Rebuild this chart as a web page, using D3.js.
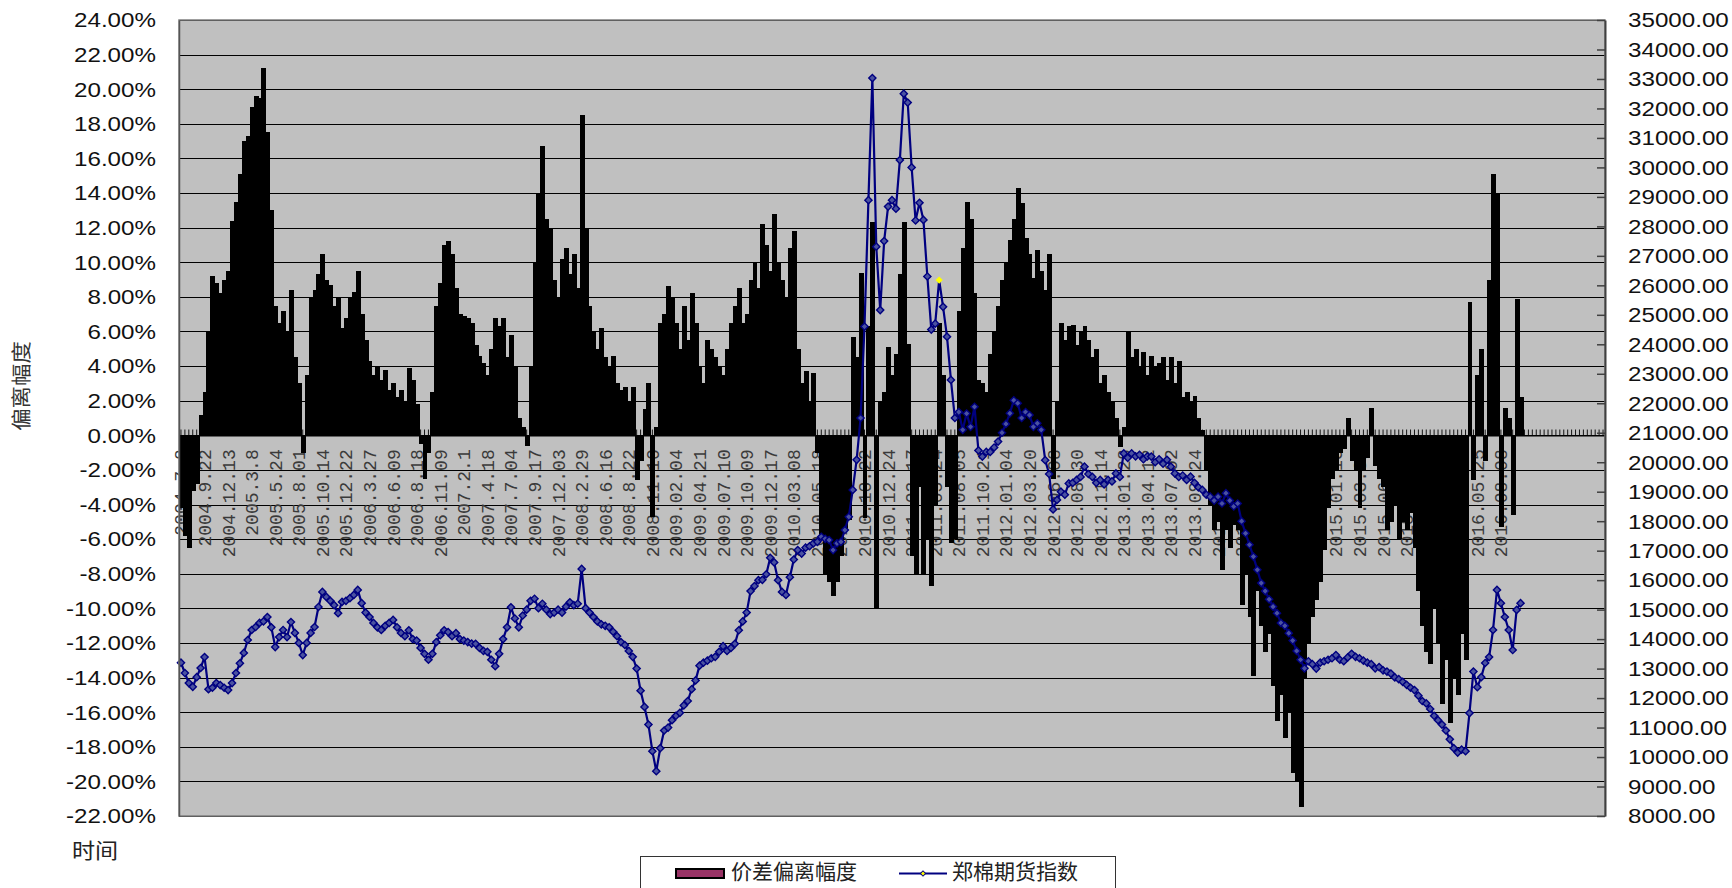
<!DOCTYPE html>
<html>
<head>
<meta charset="utf-8">
<script src="https://cdn.jsdelivr.net/npm/d3@7"></script>
<style>
  body { margin: 0; background: #ffffff; }
  text { font-family: "Liberation Sans", Arial, sans-serif; }
  .cjk { font-family: "Noto Sans CJK SC", sans-serif; }
  .mono { font-family: "Liberation Mono", "DejaVu Sans Mono", monospace; }
</style>
</head>
<body>
<svg id="chart" width="1732" height="888"></svg>
<script>
// 价差偏离幅度 (%), one value per category
const spreadDeviation = [
  -4.2, -5.8, -6.5, -3.2, -2.8, 1.2, 2.5, 6.0, 9.2, 8.8, 8.2, 9.0, 9.5, 12.4, 13.5, 15.1, 17.0, 17.3, 19.0, 19.6,
  19.5, 21.2, 17.5, 13.0, 7.5, 6.5, 7.2, 6.0, 8.4, 4.5, 3.0, -1.0, 3.5, 8.0, 8.4, 9.3, 10.5, 9.0, 8.7, 7.5,
  8.0, 6.2, 6.8, 8.0, 8.3, 9.5, 7.0, 5.5, 4.3, 3.5, 4.0, 3.2, 3.8, 2.6, 3.0, 2.2, 2.6, 2.0, 3.9, 3.2,
  1.8, -0.5, -2.5, -1.0, 2.5, 7.5, 8.8, 11.0, 11.2, 10.5, 8.5, 7.0, 6.9, 6.8, 6.5, 5.2, 4.6, 4.2, 3.5, 5.0,
  6.8, 6.3, 6.8, 4.5, 5.8, 4.0, 1.0, 0.5, -0.6, 4.0, 10.0, 14.0, 16.7, 12.5, 12.0, 9.0, 8.0, 10.2, 10.8, 9.3,
  10.5, 8.5, 18.5, 12.0, 7.5, 6.0, 5.0, 6.2, 4.5, 4.0, 4.6, 3.0, 2.6, 2.8, 2.0, 2.8, -2.6, -1.5, 1.5, 3.0,
  -4.7, 0.5, 6.5, 7.0, 8.6, 8.0, 6.5, 5.0, 7.5, 5.5, 8.2, 6.5, 4.0, 3.0, 5.5, 5.0, 4.5, 4.0, 3.5, 5.0,
  6.5, 7.5, 8.5, 6.5, 7.0, 9.0, 10.0, 8.5, 12.2, 11.0, 9.5, 12.8, 10.0, 9.0, 8.0, 10.8, 11.8, 5.0, 3.0, 3.7,
  2.0, 3.6, -1.0, -6.0, -8.0, -8.5, -9.3, -8.5, -7.0, -5.5, -4.9, 5.7, 4.5, 9.4, -4.8, 6.3, 12.3, -10.0, 2.0, 2.5,
  5.1, 3.5, 4.7, 9.3, 12.3, 5.3, -7.0, -8.0, -3.0, -8.0, -6.0, -8.7, -4.0, 6.5, 3.5, -3.0, -6.2, -6.0, 7.2, 10.8,
  13.5, 12.5, 8.2, 3.2, 3.0, 2.5, 4.7, 6.0, 7.5, 9.0, 10.0, 11.3, 12.5, 14.3, 13.4, 11.4, 10.5, 9.1, 10.7, 9.5,
  8.4, 10.5, -2.5, 2.0, 6.5, 5.5, 6.3, 6.4, 5.2, 6.0, 6.3, 5.5, 4.5, 5.0, 3.0, 3.5, 2.5, 2.0, 1.0, -0.7,
  0.5, 6.0, 4.5, 5.0, 4.0, 4.8, 3.5, 4.6, 4.0, 4.2, 4.5, 3.2, 4.5, 3.0, 4.3, 2.2, 2.5, 2.0, 2.3, 1.0,
  0.3, -2.0, -4.0, -5.5, -5.0, -7.8, -5.5, -6.5, -5.2, -5.5, -9.8, -8.0, -10.5, -13.9, -9.0, -11.0, -12.5, -11.5, -14.5, -16.5,
  -15.0, -17.5, -16.0, -19.5, -20.0, -21.5, -14.0, -12.0, -10.5, -9.5, -8.5, -6.6, -4.2, -2.5, -2.0, -1.0, -0.8, 1.0, -1.5, -2.0,
  -4.2, -2.0, -1.3, 1.6, -1.8, -2.5, -3.0, -5.5, -5.0, -4.0, -6.0, -5.0, -5.5, -4.5, -6.5, -9.0, -11.0, -12.5, -13.2, -10.0,
  -12.0, -15.5, -13.0, -16.6, -14.0, -15.0, -11.5, -13.0, 7.7, -2.6, 3.5, 5.0, -1.5, 9.0, 15.1, 14.0, -5.3, 1.6, 1.0, -4.6,
  7.9, 2.2
];

// 郑棉期货指数, one value per category
const cottonIndex = [
  13200, 12850, 12510, 12380, 12710, 13020, 13390, 12300, 12350, 12510, 12440, 12350, 12270, 12510, 12850, 13180, 13530, 13970, 14310, 14410,
  14550, 14600, 14750, 14400, 13730, 14070, 14310, 14070, 14580, 14210, 13870, 13460, 13870, 14210, 14410, 15090, 15600, 15430, 15300, 15150,
  14880, 15260, 15300, 15390, 15500, 15670, 15220, 14900, 14750, 14550, 14400, 14310, 14450, 14550, 14650, 14400, 14210, 14100, 14300, 14000,
  13950, 13700, 13500, 13300, 13500, 13900, 14130, 14300, 14240, 14100, 14200, 14000, 13950, 13900, 13850, 13840, 13700, 13600, 13570, 13300,
  13080, 13500, 14000, 14400, 15080, 14700, 14400, 14800, 15000, 15300, 15370, 15050, 15200, 15000, 14850, 14900, 15000, 14900, 15100, 15250,
  15150, 15200, 16380, 15050, 14900, 14750, 14600, 14500, 14450, 14400, 14250, 14100, 13900, 13800, 13600, 13400, 13000, 12250, 11700, 11100,
  10200, 9520, 10300, 10900, 11000, 11250, 11400, 11500, 11750, 11900, 12300, 12600, 13100, 13200, 13270, 13350, 13400, 13570, 13760, 13600,
  13700, 13840, 14300, 14600, 14900, 15630, 15800, 16000, 16010, 16200, 16760, 16600, 16000, 15600, 15500, 16100, 16700, 17020, 16900, 17100,
  17150, 17250, 17300, 17470, 17400, 17360, 17020, 17250, 17300, 17700, 18150, 19060, 20080, 21500, 24600, 28890, 33030, 27310, 25160, 27500,
  28670, 28890, 28600, 30250, 32500, 32200, 30000, 28200, 28800, 28220, 26300, 24500, 24700, 26180, 25270, 24260, 22790, 21500, 21700, 21100,
  21650, 21200, 21880, 20400, 20190, 20350, 20350, 20500, 20700, 21000, 21300, 21660, 22100, 22000, 21500, 21700, 21600, 21200, 21320, 21100,
  20070, 19600, 18400, 18720, 19000, 18900, 19280, 19300, 19400, 19500, 19850, 19600, 19500, 19300, 19400, 19250, 19400, 19350, 19620, 19500,
  20300, 20150, 20300, 20200, 20250, 20100, 20200, 20190, 20000, 20100, 19950, 20080, 19850, 19620, 19500, 19550, 19400, 19510, 19300, 19150,
  19060, 18900, 18830, 18700, 18830, 18600, 18950, 18700, 18500, 18600, 18000, 17590, 17200, 16800, 16350, 15900, 15630, 15350, 15100, 14880,
  14550, 14450, 14200, 13950, 13600, 13300, 13010, 13250, 13150, 13000, 13200, 13250, 13300, 13350, 13460, 13300, 13250, 13380, 13500, 13400,
  13350, 13270, 13200, 13150, 13010, 13050, 12940, 12900, 12830, 12700, 12640, 12550, 12450, 12350, 12270, 12080, 11900, 11820, 11630, 11400,
  11250, 11100, 10900, 10600, 10300, 10150, 10250, 10200, 11490, 12900, 12370, 12710, 13190, 13390, 14310, 15670, 15220, 14750, 14310, 13630,
  14990, 15220
];

// category axis labels, one for every sixth category
const dateLabels = [
  "2004.7.8", "2004.9.22", "2004.12.13", "2005.3.8", "2005.5.24", "2005.8.01", "2005.10.14", "2005.12.22",
  "2006.3.27", "2006.6.09", "2006.8.18", "2006.11.09", "2007.2.1", "2007.4.18", "2007.7.04", "2007.9.17",
  "2007.12.03", "2008.2.29", "2008.6.16", "2008.8.22", "2008.11.10", "2009.02.04", "2009.04.21", "2009.07.10",
  "2009.10.09", "2009.12.17", "2010.03.08", "2010.05.18", "2010.08.03", "2010.10.22", "2010.12.24", "2011.03.17",
  "2011.05.24", "2011.08.05", "2011.10.21", "2012.01.04", "2012.03.20", "2012.06.08", "2012.08.30", "2012.11.14",
  "2013.01.28", "2013.04.12", "2013.07.02", "2013.09.24", "2013.12.13", "2014.03.05", "2014.05.21", "2014.08.06",
  "2014.10.27", "2015.01.13", "2015.03.31", "2015.06.16", "2015.09.01", "2015.11.20", "2016.02.15", "2016.05.25",
  "2016.08.08"
];

const leftTicks = [24, 22, 20, 18, 16, 14, 12, 10, 8, 6, 4, 2, 0, -2, -4, -6, -8, -10, -12, -14, -16, -18, -20, -22];
const rightTicks = [35000, 34000, 33000, 32000, 31000, 30000, 29000, 28000, 27000, 26000, 25000, 24000, 23000, 22000,
  21000, 20000, 19000, 18000, 17000, 16000, 15000, 14000, 13000, 12000, 11000, 10000, 9000, 8000];

const seriesNames = ["价差偏离幅度", "郑棉期货指数"];
const labelEvery = 6;        // one date label per six categories
const trailingBlank = 21;    // empty categories after the last observation
const highlightIndex = 193;  // point drawn with a yellow marker

const plot = { left: 179, right: 1605, top: 20, bottom: 816 };
const nCats = spreadDeviation.length + trailingBlank;

const svg = d3.select("#chart");

const x = d3.scaleBand().domain(d3.range(nCats)).range([plot.left, plot.right]).padding(0);
const yL = d3.scaleLinear().domain([-22, 24]).range([plot.bottom, plot.top]);
const yR = d3.scaleLinear().domain([8000, 35000]).range([plot.bottom, plot.top]);
const cx = i => x(i) + x.bandwidth() / 2;

// plot area
svg.append("rect")
  .attr("x", plot.left).attr("y", plot.top)
  .attr("width", plot.right - plot.left).attr("height", plot.bottom - plot.top)
  .attr("fill", "#C0C0C0");

// horizontal gridlines
svg.append("g").selectAll("line").data(leftTicks).join("line")
  .attr("x1", plot.left).attr("x2", plot.right)
  .attr("y1", d => Math.round(yL(d)) + 0.5).attr("y2", d => Math.round(yL(d)) + 0.5)
  .attr("stroke", "#000").attr("stroke-width", 1.1);

// category axis on the zero line: one tick per category
const catAxis = svg.append("g").attr("transform", `translate(0,${Math.round(yL(0)) + 0.5})`)
  .call(d3.axisTop(x).tickValues(d3.range(nCats)).tickSize(6).tickSizeOuter(0).tickFormat(""));
catAxis.selectAll("line").attr("stroke", "#000").attr("stroke-width", 0.9);
catAxis.select(".domain").attr("stroke", "#000");

// rotated date labels below the zero line
const labelAxis = svg.append("g").attr("transform", `translate(0,${yL(0) + 14})`)
  .call(d3.axisBottom(x)
    .tickValues(d3.range(0, spreadDeviation.length, labelEvery))
    .tickSize(0)
    .tickFormat(i => dateLabels[i / labelEvery]));
labelAxis.select(".domain").remove();
labelAxis.selectAll("text")
  .attr("class", "mono")
  .attr("x", 0).attr("y", 0).attr("dy", "0.36em")
  .attr("text-anchor", "end")
  .attr("transform", "rotate(-90)")
  .attr("font-size", 18)
  .attr("fill", "#3a3a3a");

// deviation bars (slightly overlapped so neighbouring bars merge)
svg.append("g").attr("shape-rendering", "crispEdges")
  .selectAll("rect").data(spreadDeviation).join("rect")
  .attr("x", (d, i) => x(i))
  .attr("width", x.bandwidth() + 1)
  .attr("y", d => yL(Math.max(0, d)))
  .attr("height", d => Math.abs(yL(d) - yL(0)))
  .attr("fill", "#000");

// cotton futures index line
const line = d3.line().x((d, i) => cx(i)).y(d => yR(d));
svg.append("path").datum(cottonIndex)
  .attr("d", line)
  .attr("fill", "none")
  .attr("stroke", "#000080")
  .attr("stroke-width", 2.2)
  .attr("stroke-linejoin", "round");

const diamond = d3.symbol().type(d3.symbolSquare).size(26);
svg.append("g").selectAll("path").data(cottonIndex).join("path")
  .attr("d", diamond)
  .attr("transform", (d, i) => `translate(${cx(i)},${yR(d)}) rotate(45)`)
  .attr("fill", (d, i) => i === highlightIndex ? "#FFFF00" : "#4a52a0")
  .attr("stroke", (d, i) => i === highlightIndex ? "none" : "#000080")
  .attr("stroke-width", 1.4);

// plot border
svg.append("rect")
  .attr("x", plot.left).attr("y", plot.top)
  .attr("width", plot.right - plot.left).attr("height", plot.bottom - plot.top)
  .attr("fill", "none").attr("stroke", "#808080").attr("stroke-width", 1.5);

// left axis (percent)
const leftAxis = svg.append("g").attr("transform", `translate(${plot.left},0)`)
  .call(d3.axisLeft(yL).tickValues(leftTicks).tickSize(0).tickFormat(d => d.toFixed(2) + "%"));
leftAxis.select(".domain").attr("stroke", "#555").attr("stroke-width", 1.5);
leftAxis.selectAll("text")
  .attr("x", null).attr("dy", "0.35em")
  .attr("transform", "translate(-23,0) scale(1.24,1)")
  .attr("font-size", 19.5).attr("fill", "#111");

// right axis (index level), ticks pointing into the plot
const rightAxis = svg.append("g").attr("transform", `translate(${plot.right},0)`)
  .call(d3.axisRight(yR).tickValues(rightTicks).tickSizeInner(-8).tickSizeOuter(0).tickFormat(d => d.toFixed(2)));
rightAxis.select(".domain").attr("stroke", "#404040").attr("stroke-width", 2);
rightAxis.selectAll("line").attr("stroke", "#404040").attr("stroke-width", 1.5);
rightAxis.selectAll("text")
  .attr("x", null).attr("dy", "0.35em")
  .attr("transform", "translate(23,0) scale(1.24,1)")
  .attr("text-anchor", "start")
  .attr("font-size", 19.5).attr("fill", "#111");

// axis titles
svg.append("text").attr("class", "cjk")
  .attr("transform", "translate(22,386) rotate(-90) scale(1.12,1)")
  .attr("text-anchor", "middle").attr("dy", "0.35em")
  .attr("font-size", 20).attr("fill", "#333")
  .text("偏离幅度");
svg.append("text").attr("class", "cjk")
  .attr("transform", "translate(72,851) scale(1.1,1)")
  .attr("dy", "0.35em")
  .attr("font-size", 21).attr("fill", "#222")
  .text("时间");

// legend
const legend = svg.append("g");
legend.append("rect")
  .attr("x", 640.5).attr("y", 856.5).attr("width", 475).attr("height", 45)
  .attr("fill", "#fff").attr("stroke", "#333").attr("stroke-width", 1);
legend.append("rect")
  .attr("x", 676).attr("y", 869).attr("width", 48).attr("height", 9)
  .attr("fill", "#993366").attr("stroke", "#000").attr("stroke-width", 2);
legend.append("text").attr("class", "cjk")
  .attr("x", 731).attr("y", 872).attr("dy", "0.35em")
  .attr("font-size", 21).attr("fill", "#222")
  .text(seriesNames[0]);
legend.append("line")
  .attr("x1", 899).attr("x2", 947).attr("y1", 873.5).attr("y2", 873.5)
  .attr("stroke", "#000080").attr("stroke-width", 2);
legend.append("path")
  .attr("d", d3.symbol().type(d3.symbolSquare).size(14))
  .attr("transform", "translate(923,873.5) rotate(45)")
  .attr("fill", "#FFFF00").attr("stroke", "#000080").attr("stroke-width", 1);
legend.append("text").attr("class", "cjk")
  .attr("x", 952).attr("y", 872).attr("dy", "0.35em")
  .attr("font-size", 21).attr("fill", "#222")
  .text(seriesNames[1]);
</script>
</body>
</html>
